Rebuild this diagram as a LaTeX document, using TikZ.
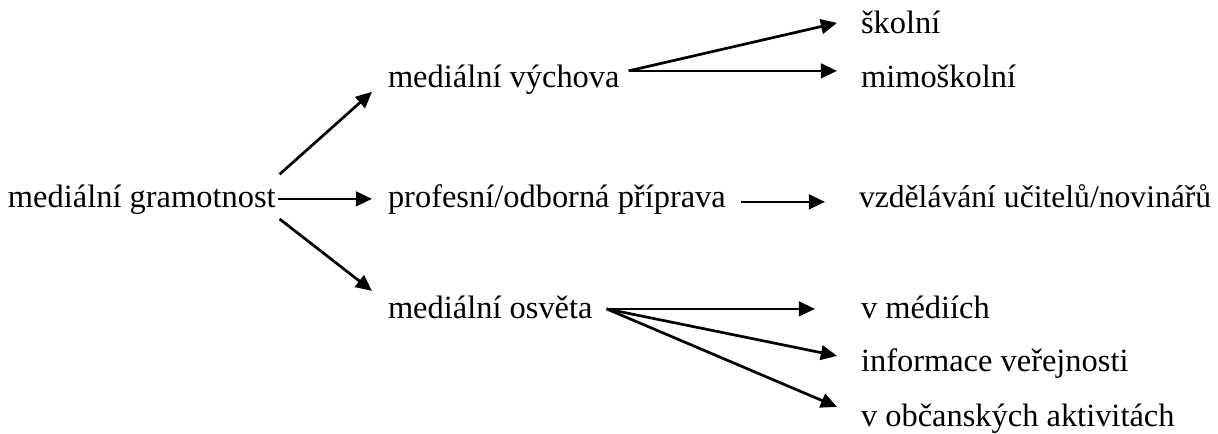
\documentclass[tikz,border=0pt]{standalone}
\usepackage{fontspec}
\setmainfont{Liberation Serif}
\usetikzlibrary{arrows.meta}

\tikzset{
  term/.style={anchor=base west, inner sep=0pt, outer sep=0pt,
    text height=8.4pt, text depth=2.4pt},
  arr/.style={-{Triangle[length=0.21cm, width=0.19cm]}, line width=1pt}
}

\begin{document}
\begin{tikzpicture}[x=0.013cm, y=-0.013cm, font=\fontsize{12pt}{14pt}\selectfont,
  line cap=butt, line join=miter]

\useasboundingbox (0,0) rectangle (1218,434);

% left and middle column
\node[term] (gram) at (8,208) {mediální gramotnost};
\node[term] (vych) at (388,88) {mediální výchova};
\node[term] (prof) at (388,208) {profesní/odborná příprava};
\node[term] (osv) at (388,318) {mediální osvěta};

% right column
\node[term] (skol) at (861,34) {školní};
\node[term] (mimo) at (861,88) {mimoškolní};
\node[term, font=\fontsize{11.7pt}{14pt}\selectfont] (vzdel) at (859,208) {vzdělávání učitelů/novinářů};
\node[term] (medi) at (861,318) {v médiích};
\node[term] (info) at (861,372) {informace veřejnosti};
\node[term] (obc) at (861,426) {v občanských aktivitách};

\draw[arr] ([shift={(4,-11)}]gram.north east) -- ([shift={(-16,12)}]vych.west);
\draw[arr] ([shift={(2,-1)}]gram.east) -- ([shift={(-16,-1)}]prof.west);
\draw[arr] ([shift={(4,4.5)}]gram.south east) -- ([shift={(-16,-19)}]osv.west);

\draw[arr] ([shift={(9,-9)}]vych.east) -- ([shift={(-24,-3)}]skol.west);
\draw[arr] ([shift={(9,-9)}]vych.east) -- ([shift={(-24,-9)}]mimo.west);

\draw[arr] ([shift={(15,2)}]prof.east) -- ([shift={(-34,2)}]vzdel.west);

\draw[arr] ([shift={(14,-1)}]osv.east) -- ([shift={(-46,-1)}]medi.west);
\draw[arr] ([shift={(14,-1)}]osv.east) -- ([shift={(-24,-8)}]info.west);
\draw[arr] ([shift={(14,-1)}]osv.east) -- ([shift={(-24,-11)}]obc.west);

\end{tikzpicture}
\end{document}
